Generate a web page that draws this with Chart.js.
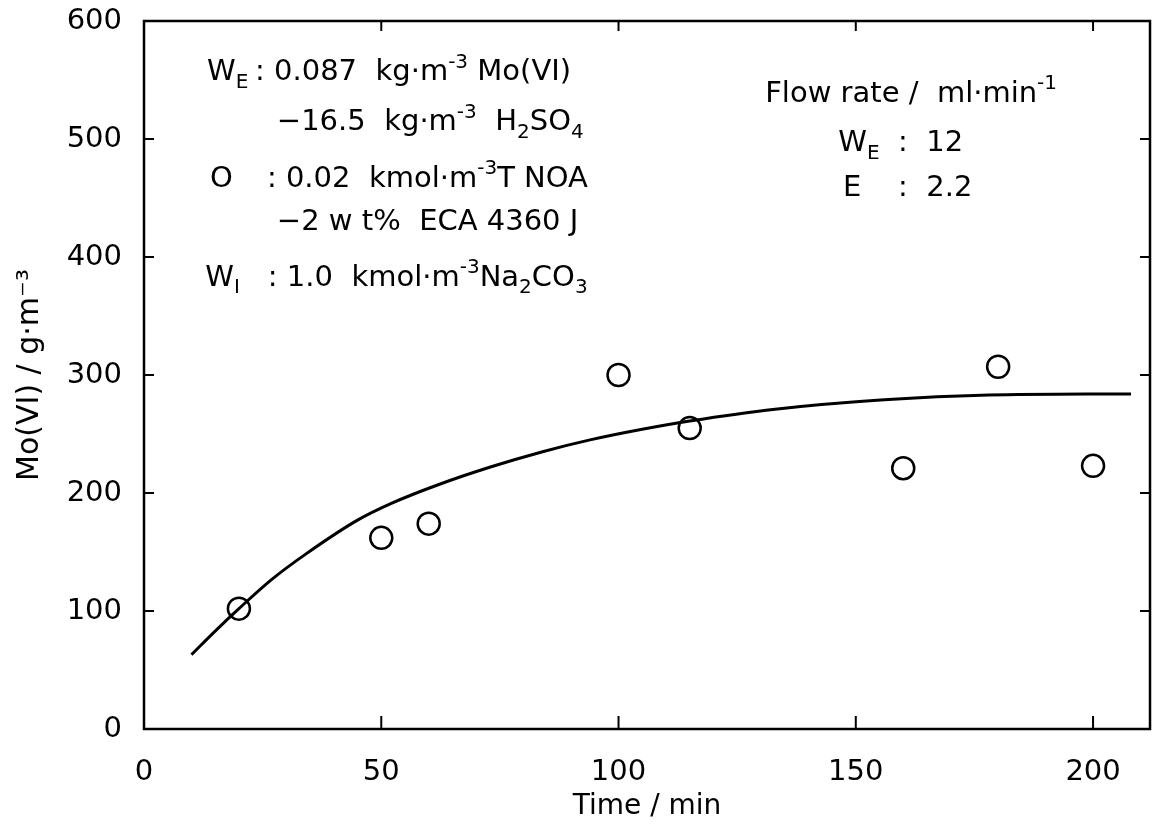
<!DOCTYPE html>
<html>
<head>
<meta charset="utf-8">
<script src="https://cdn.jsdelivr.net/npm/chart.js@4.4.1/dist/chart.umd.min.js"></script>
<style>
  html, body { margin: 0; padding: 0; background: #fff; overflow: hidden; }
  #wrap { width: 1156px; height: 828px; }
  canvas { display: block; }
</style>
</head>
<body>
<div id="wrap"><canvas id="chart"></canvas></div>
<script>
// measured points (time in min, Mo(VI) in g/m3)
var timeData = [20, 50, 60, 100, 115, 160, 180, 200];
var moData   = [102, 162, 174, 300, 255, 221, 307, 223];

// fitted curve
var curveTime = [10, 15, 20, 27, 34, 45, 52, 62, 73, 84, 94, 105, 115, 133, 156, 178, 208];
var curveMo   = [63, 83, 102, 127, 148, 177, 191, 207, 222, 235, 245, 254, 261, 271, 279, 283, 284];

var xTicks = [0, 50, 100, 150, 200];
var yTicks = [0, 100, 200, 300, 400, 500, 600];

var FONT = "'DejaVu Sans', sans-serif";

// text pieces: [x value, y value, runs]   runs: [text, 'n'|'sub'|'sup']
var notes = [
  [13.3, 556, [['W','n'],['E','sub']]],
  [23.4, 556, [[': 0.087  kg·m','n'],['-3','sup'],[' Mo(VI)','n']]],
  [28.0, 514, [['−16.5  kg·m','n'],['-3','sup'],['  H','n'],['2','sub'],['SO','n'],['4','sub']]],
  [13.9, 466, [['O','n']]],
  [25.9, 466, [[': 0.02  kmol·m','n'],['-3','sup'],['T NOA','n']]],
  [28.0, 429, [['−2 w t%  ECA 4360 J','n']]],
  [12.9, 382, [['W','n'],['I','sub']]],
  [26.1, 382, [[': 1.0  kmol·m','n'],['-3','sup'],['Na','n'],['2','sub'],['CO','n'],['3','sub']]],
  [130.9, 538, [['Flow rate /  ml·min','n'],['-1','sup']]],
  [146.3, 496, [['W','n'],['E','sub']]],
  [158.9, 496, [[':  12','n']]],
  [147.3, 458, [['E','n']]],
  [158.9, 458, [[':  2.2','n']]]
];

function drawRuns(ctx, x, y, runs) {
  ctx.textBaseline = 'middle';
  ctx.textAlign = 'left';
  for (var i = 0; i < runs.length; i++) {
    var t = runs[i][0], m = runs[i][1];
    var dy = 0;
    if (m == 'n') { ctx.font = '29px ' + FONT; }
    else { ctx.font = '20px ' + FONT; dy = (m == 'sub') ? 10 : -10; }
    ctx.fillText(t, x, y + dy);
    x += ctx.measureText(t).width;
  }
}

var framePlugin = {
  id: 'frame',
  afterDraw: function(chart) {
    var ctx = chart.ctx;
    var a = chart.chartArea;
    var xs = chart.scales.x, ys = chart.scales.y;
    ctx.save();
    ctx.strokeStyle = '#000';
    ctx.lineWidth = 2.5;
    ctx.strokeRect(a.left, a.top, a.right - a.left, a.bottom - a.top);
    ctx.lineWidth = 2;
    ctx.beginPath();
    for (var i = 1; i < xTicks.length; i++) {
      var px = xs.getPixelForValue(xTicks[i]);
      ctx.moveTo(px, a.bottom); ctx.lineTo(px, a.bottom - 13);
      ctx.moveTo(px, a.top); ctx.lineTo(px, a.top + 10);
    }
    for (var j = 1; j < yTicks.length - 1; j++) {
      var py = ys.getPixelForValue(yTicks[j]);
      ctx.moveTo(a.left, py); ctx.lineTo(a.left + 10, py);
      ctx.moveTo(a.right, py); ctx.lineTo(a.right - 10, py);
    }
    ctx.stroke();
    ctx.fillStyle = '#000';
    for (var k = 0; k < notes.length; k++) {
      drawRuns(ctx, xs.getPixelForValue(notes[k][0]), ys.getPixelForValue(notes[k][1]), notes[k][2]);
    }
    ctx.restore();
  }
};

var curvePts = [];
for (var i = 0; i < curveTime.length; i++) curvePts.push({x: curveTime[i], y: curveMo[i]});
var dataPts = [];
for (var i = 0; i < timeData.length; i++) dataPts.push({x: timeData[i], y: moData[i]});

new Chart(document.getElementById('chart'), {
  type: 'scatter',
  data: {
    datasets: [
      {
        data: curvePts,
        showLine: true,
        borderColor: '#000',
        borderWidth: 3,
        pointRadius: 0,
        cubicInterpolationMode: 'monotone'
      },
      {
        data: dataPts,
        pointRadius: 11,
        pointBorderWidth: 2.5,
        pointBorderColor: '#000',
        pointBackgroundColor: '#fff',
        showLine: false
      }
    ]
  },
  options: {
    responsive: true,
    maintainAspectRatio: false,
    animation: false,
    layout: { autoPadding: false, padding: { top: 21, right: 6, left: 0, bottom: 0 } },
    plugins: { legend: { display: false }, tooltip: { enabled: false } },
    scales: {
      x: {
        type: 'linear', min: 0, max: 212,
        afterBuildTicks: function(s) { s.ticks = xTicks.map(function(v){ return {value: v}; }); },
        afterFit: function(s) { s.height = 99; s.paddingLeft = 0; s.paddingRight = 0; },
        grid: { display: false },
        border: { display: false },
        ticks: { color: '#000', font: { family: FONT, size: 29 }, padding: 18, maxRotation: 0 },
        title: { display: true, text: 'Time / min', color: '#000', font: { family: FONT, size: 28 }, padding: { top: 0, bottom: 4 } }
      },
      y: {
        type: 'linear', min: 0, max: 600,
        afterBuildTicks: function(s) { s.ticks = yTicks.map(function(v){ return {value: v}; }); },
        afterFit: function(s) { s.width = 144; s.paddingTop = 0; s.paddingBottom = 0; },
        grid: { display: false },
        border: { display: false },
        ticks: { color: '#000', font: { family: FONT, size: 29 }, padding: 14 },
        title: { display: true, text: 'Mo(VI) / g·m⁻³', color: '#000', font: { family: FONT, size: 30 }, padding: { top: 12, bottom: 6 } }
      }
    }
  },
  plugins: [framePlugin]
});
</script>
</body>
</html>
